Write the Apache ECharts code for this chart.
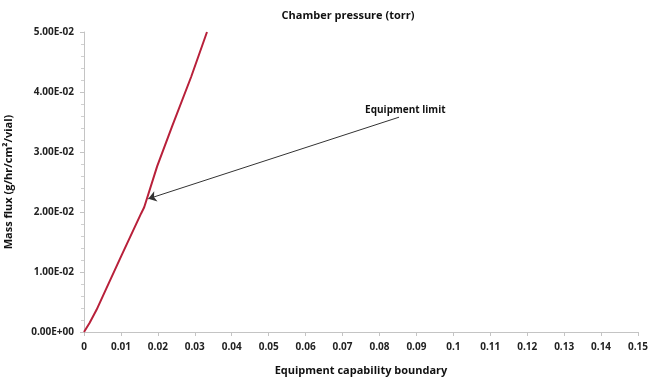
<!DOCTYPE html>
<html><head><meta charset="utf-8">
<script src="https://cdn.jsdelivr.net/npm/echarts@6/dist/echarts.min.js"></script>
<style>html,body{margin:0;padding:0;background:#fff}#c{width:654px;height:386px}</style>
</head><body><div id="c"></div>
<script>
const xValues = [0, 0.0015, 0.0034, 0.0060, 0.0102, 0.0155, 0.0163, 0.0198, 0.0238, 0.0290, 0.0333];
const yValues = [0, 0.0015, 0.0037, 0.0072, 0.0128, 0.0198, 0.0208, 0.0276, 0.0342, 0.0425, 0.0500];
const arrowStart = [0.0853, 0.0358];
const arrowEnd = [0.0174, 0.0222];
const labelPos = [0.0870, 0.0370];
const titleText = 'Chamber pressure (torr)';
const xTitle = 'Equipment capability boundary';
const yTitle = 'Mass flux (g/hr/cm\u00b2/vial)';
const annotText = 'Equipment limit';

function sci(v){
  if (v === 0) return '0.00E+00';
  const e = Math.floor(Math.log10(Math.abs(v)) + 1e-9);
  const m = v / Math.pow(10, e);
  const s = e < 0 ? '-' : '+';
  const a = Math.abs(e);
  return m.toFixed(2) + 'E' + s + (a < 10 ? '0' + a : a);
}
const FONT = 'Open Sans';
const chart = echarts.init(document.getElementById('c'));
chart.setOption({
  animation: false,
  title: { text: titleText, left: 343, top: 5, textAlign: 'center',
    textStyle: { fontFamily: FONT, fontSize: 11, fontWeight: 'bold', color: '#111' } },
  grid: { left: 84, right: 16, top: 32, bottom: 54, outerBoundsMode: 'none', containLabel: false },
  xAxis: {
    type: 'value', min: 0, max: 0.15, interval: 0.01,
    name: xTitle, nameLocation: 'middle', nameGap: 33,
    nameTextStyle: { fontFamily: FONT, fontSize: 11, fontWeight: 'bold', color: '#111' },
    axisLine: { lineStyle: { color: '#c4c4c4', width: 1 } },
    axisTick: { show: true, inside: false, length: 4, lineStyle: { color: '#c4c4c4' } },
    splitLine: { show: false },
    axisLabel: { fontFamily: FONT, fontSize: 10, fontWeight: 'bold', color: '#222', margin: 10,
      formatter: v => String(parseFloat(v.toFixed(2))) }
  },
  yAxis: {
    type: 'value', min: 0, max: 0.05, interval: 0.01,
    name: yTitle, nameLocation: 'middle', nameGap: 70,
    nameTextStyle: { fontFamily: FONT, fontSize: 11, fontWeight: 'bold', color: '#111' },
    axisLine: { show: true, lineStyle: { color: '#c4c4c4', width: 1 } },
    axisTick: { show: true, length: 4, lineStyle: { color: '#c4c4c4' } },
    minorTick: { show: true, splitNumber: 5, length: 3, lineStyle: { color: '#d0d0d0' } },
    splitLine: { show: false },
    axisLabel: { fontFamily: FONT, fontSize: 10, fontWeight: 'bold', color: '#222', margin: 10,
      formatter: sci }
  },
  series: [{
    type: 'line',
    data: xValues.map((x, i) => [x, yValues[i]]),
    showSymbol: false,
    lineStyle: { color: '#b8203a', width: 2 },
    markLine: {
      silent: true,
      symbol: ['none', 'arrow'], symbolSize: 8,
      lineStyle: { color: '#333', width: 1, type: 'solid' },
      label: { show: false },
      data: [[{ coord: arrowStart }, { coord: arrowEnd }]]
    },
    markPoint: {
      silent: true,
      symbol: 'circle', symbolSize: 0,
      label: { show: true, formatter: annotText, fontFamily: FONT, fontSize: 10, fontWeight: 'bold', color: '#111' },
      data: [{ coord: labelPos }]
    }
  }]
});
</script></body></html>
